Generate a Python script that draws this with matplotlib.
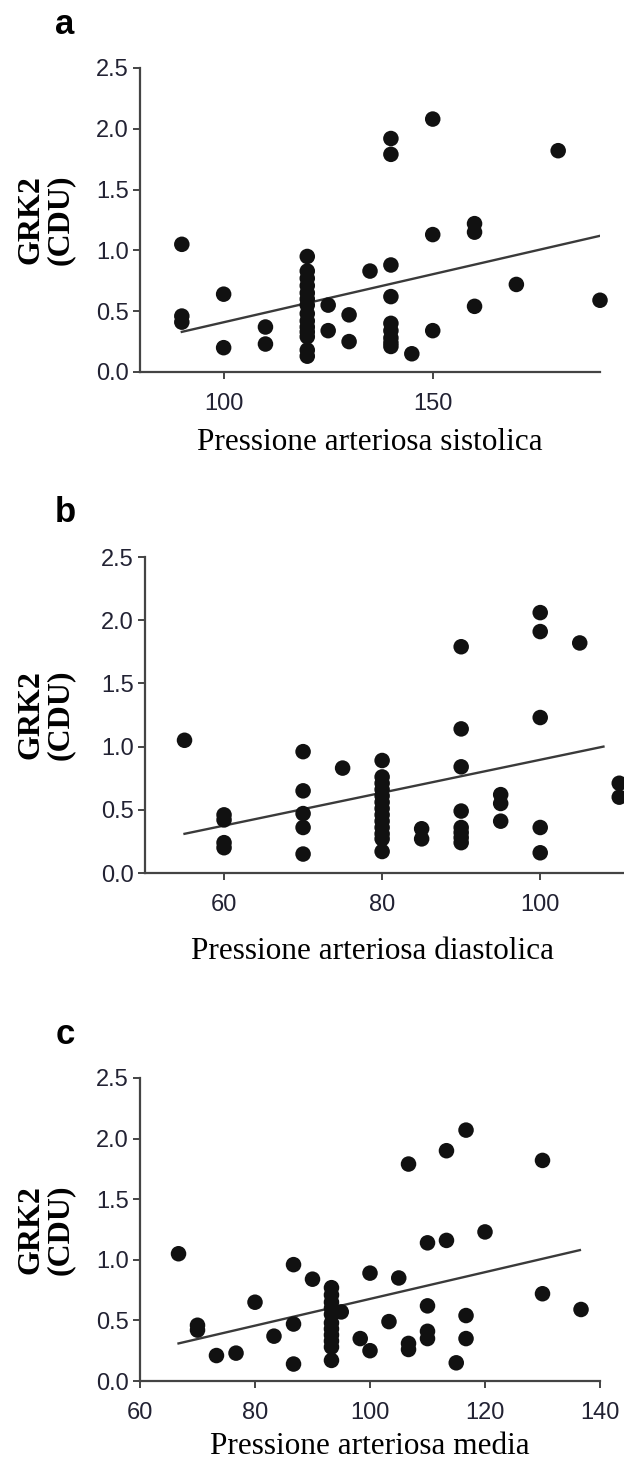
import matplotlib
matplotlib.use("Agg")
import matplotlib.pyplot as plt
from matplotlib.ticker import FormatStrFormatter

W, H = 624, 1474

# --- dati ---
# a: pressione sistolica
sys_x = [90, 90, 90, 100, 100, 110, 110,
         120, 120, 120, 120, 120, 120, 120, 120, 120, 120, 120, 120, 120, 120,
         125, 125, 130, 130, 135,
         140, 140, 140, 140, 140, 140, 140, 140, 140,
         145, 150, 150, 150, 160, 160, 160, 170, 180, 190]
sys_y = [1.05, 0.46, 0.41, 0.64, 0.20, 0.37, 0.23,
         0.95, 0.83, 0.77, 0.71, 0.65, 0.60, 0.55, 0.48, 0.42, 0.37, 0.33, 0.29, 0.18, 0.13,
         0.55, 0.34, 0.47, 0.25, 0.83,
         1.92, 1.79, 0.88, 0.62, 0.40, 0.34, 0.28, 0.24, 0.21,
         0.15, 2.08, 1.13, 0.34, 1.22, 1.15, 0.54, 0.72, 1.82, 0.59]
sys_fit_x = [90, 190]
sys_fit_y = [0.33, 1.12]

# b: pressione diastolica
dia_x = [55, 60, 60, 60, 60, 70, 70, 70, 70, 70, 75,
         80, 80, 80, 80, 80, 80, 80, 80, 80, 80, 80, 80, 80,
         85, 85, 90, 90, 90, 90, 90, 90, 90, 90,
         95, 95, 95, 100, 100, 100, 100, 100, 105, 110, 110]
dia_y = [1.05, 0.46, 0.42, 0.24, 0.20, 0.96, 0.65, 0.47, 0.36, 0.15, 0.83,
         0.89, 0.76, 0.71, 0.66, 0.61, 0.56, 0.51, 0.46, 0.41, 0.36, 0.31, 0.27, 0.17,
         0.35, 0.27, 1.79, 1.14, 0.84, 0.49, 0.36, 0.32, 0.28, 0.24,
         0.62, 0.55, 0.41, 2.06, 1.91, 1.23, 0.36, 0.16, 1.82, 0.71, 0.60]
dia_fit_x = [55, 108]
dia_fit_y = [0.31, 1.00]

# c: pressione media
med_x = [66.7, 70, 70, 73.3, 76.7, 80, 83.3, 86.7, 86.7, 86.7, 90,
         93.3, 93.3, 93.3, 93.3, 93.3, 93.3, 93.3, 93.3, 93.3, 93.3, 93.3,
         95, 98.3, 100, 100, 103.3, 105, 106.7, 106.7, 106.7,
         110, 110, 110, 110, 113.3, 113.3, 115, 116.7, 116.7, 116.7,
         120, 130, 130, 136.7]
med_y = [1.05, 0.46, 0.42, 0.21, 0.23, 0.65, 0.37, 0.96, 0.47, 0.14, 0.84,
         0.77, 0.71, 0.65, 0.60, 0.55, 0.48, 0.43, 0.38, 0.33, 0.28, 0.17,
         0.57, 0.35, 0.89, 0.25, 0.49, 0.85, 1.79, 0.31, 0.26,
         1.14, 0.62, 0.41, 0.35, 1.90, 1.16, 0.15, 2.07, 0.54, 0.35,
         1.23, 1.82, 0.72, 0.59]
med_fit_x = [66.7, 136.5]
med_fit_y = [0.31, 1.08]

y_ticks = [0.0, 0.5, 1.0, 1.5, 2.0, 2.5]

panels = [
    # lettera, x, y, fit x, fit y, xlim, xticks, xlabel, box (left, right, top, bottom px), y xlabel
    ("a", sys_x, sys_y, sys_fit_x, sys_fit_y, (80, 190), [100, 150],
     "Pressione arteriosa sistolica", (140, 600, 68, 372), 443),
    ("b", dia_x, dia_y, dia_fit_x, dia_fit_y, (50, 110.6), [60, 80, 100],
     "Pressione arteriosa diastolica", (145, 624, 557, 873), 952),
    ("c", med_x, med_y, med_fit_x, med_fit_y, (60, 140), [60, 80, 100, 120, 140],
     "Pressione arteriosa media", (140, 600, 1078, 1381), 1447),
]

fig = plt.figure(figsize=(W / 100, H / 100), dpi=100)
tick_col = "#222233"

for letter, xs, ys, fx, fy, xlim, xticks, xlabel, box, xl_y in panels:
    left, right, top, bottom = box
    ax = fig.add_axes([left / W, 1 - bottom / H, (right - left) / W, (bottom - top) / H])
    ax.scatter(xs, ys, s=125, color="#111111", edgecolors="none", clip_on=False, zorder=3)
    ax.plot(fx, fy, color="#3a3a3a", lw=1.7, zorder=2)

    ax.set_xlim(*xlim)
    ax.set_ylim(0, 2.5)
    ax.set_xticks(xticks)
    ax.set_yticks(y_ticks)
    ax.yaxis.set_major_formatter(FormatStrFormatter("%.1f"))
    for s in ("top", "right"):
        ax.spines[s].set_visible(False)
    for s in ("left", "bottom"):
        ax.spines[s].set_color("#444444")
        ax.spines[s].set_linewidth(1.6)
    ax.tick_params(axis="both", direction="out", length=5, width=1.4, color="#444444",
                   labelsize=17, labelcolor=tick_col)
    ax.tick_params(axis="x", pad=10)
    ax.tick_params(axis="y", pad=3)
    for lab in ax.get_xticklabels() + ax.get_yticklabels():
        lab.set_fontfamily("Liberation Sans")

    cy = (top + bottom) / 2
    fig.text(46 / W, 1 - cy / H, "GRK2\n(CDU)", rotation=90, ha="center", va="center",
             fontsize=23, fontweight="bold", family="Liberation Serif", linespacing=1.0)
    fig.text(65 / W, 1 - (top - 44) / H, letter, ha="center", va="center",
             fontsize=25, fontweight="bold", family="Liberation Sans")
    fig.text((left + min(right, 600)) / 2 / W, 1 - xl_y / H, xlabel,
             ha="center", va="center", fontsize=22.5, family="Liberation Serif")

fig.savefig("out.png", dpi=100)
